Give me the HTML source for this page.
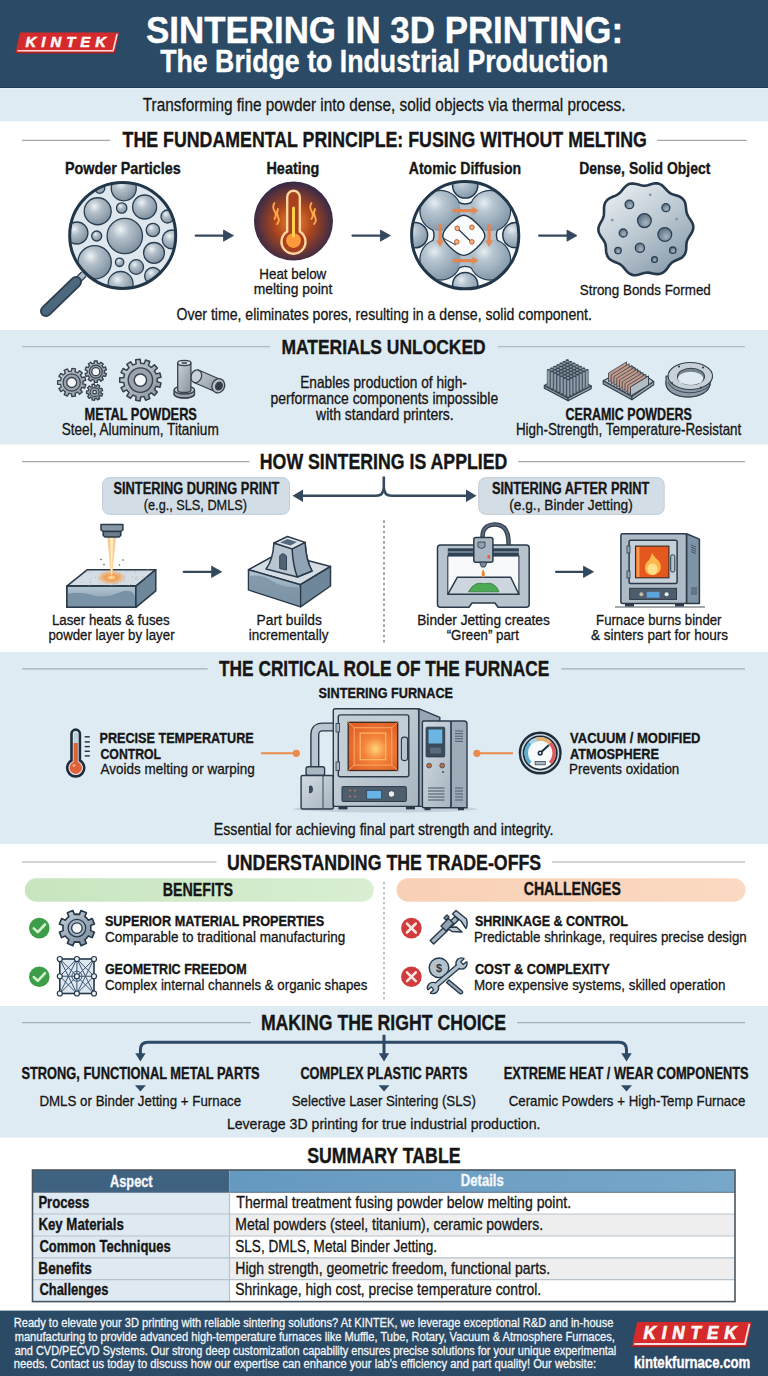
<!DOCTYPE html>
<html><head><meta charset="utf-8"><title>Sintering in 3D Printing</title>
<style>
html,body{margin:0;padding:0;width:768px;height:1376px;overflow:hidden;background:#fff}
svg{display:block;font-family:"Liberation Sans",sans-serif}
</style></head><body>
<svg width="768" height="1376" viewBox="0 0 768 1376">
<defs><radialGradient id="sph" cx="0.38" cy="0.32" r="0.7"><stop offset="0" stop-color="#eef3f6"/><stop offset="0.35" stop-color="#b4c1cb"/><stop offset="1" stop-color="#7d8f9e"/></radialGradient><clipPath id="magclip"><circle cx="122.7" cy="235.4" r="52"/></clipPath><radialGradient id="heatg" cx="0.5" cy="0.52" r="0.5"><stop offset="0" stop-color="#f5842a"/><stop offset="0.5" stop-color="#a8441e"/><stop offset="1" stop-color="#3b2b47"/></radialGradient><clipPath id="atclip"><circle cx="465.2" cy="235.2" r="52.5"/></clipPath><radialGradient id="sph2" cx="0.35" cy="0.3" r="0.75"><stop offset="0" stop-color="#e6edf2"/><stop offset="0.3" stop-color="#b8c6d1"/><stop offset="1" stop-color="#8196a8"/></radialGradient><linearGradient id="blobg" x1="0.2" y1="0.1" x2="0.8" y2="0.95"><stop offset="0" stop-color="#e2e8ed"/><stop offset="0.5" stop-color="#b9c6d0"/><stop offset="1" stop-color="#8a9dac"/></linearGradient><radialGradient id="holeg" cx="0.6" cy="0.65" r="0.6"><stop offset="0" stop-color="#a7b6c2"/><stop offset="1" stop-color="#5f7385"/></radialGradient><linearGradient id="metg" x1="0" y1="0" x2="1" y2="1"><stop offset="0" stop-color="#c9d0d6"/><stop offset="1" stop-color="#8a949e"/></linearGradient><linearGradient id="beamg" x1="0" y1="0" x2="1" y2="0"><stop offset="0" stop-color="#f5a050" stop-opacity="0.6"/><stop offset="0.5" stop-color="#ffe0a0"/><stop offset="1" stop-color="#f5a050" stop-opacity="0.6"/></linearGradient><radialGradient id="glowg"><stop offset="0" stop-color="#fff0c0"/><stop offset="0.35" stop-color="#f59a4a"/><stop offset="1" stop-color="#f59a4a" stop-opacity="0"/></radialGradient><linearGradient id="frontg" x1="0" y1="0" x2="0" y2="1"><stop offset="0" stop-color="#b3c5d3"/><stop offset="1" stop-color="#7891a5"/></linearGradient><linearGradient id="furng" x1="0" y1="0" x2="1" y2="1"><stop offset="0" stop-color="#d2dbe3"/><stop offset="1" stop-color="#a7b4bf"/></linearGradient><radialGradient id="ovg" cx="0.55" cy="0.55" r="0.6"><stop offset="0" stop-color="#ffd27a"/><stop offset="0.4" stop-color="#f5843a"/><stop offset="1" stop-color="#e0602a"/></radialGradient><linearGradient id="greenp" x1="0" x2="1"><stop offset="0" stop-color="#c8e5bf"/><stop offset="1" stop-color="#d9eed2"/></linearGradient><linearGradient id="orangep" x1="0" x2="1"><stop offset="0" stop-color="#f8d0b6"/><stop offset="1" stop-color="#fbd9c2"/></linearGradient><linearGradient id="gear2g" x1="0" y1="0" x2="0.8" y2="1"><stop offset="0" stop-color="#c8d1da"/><stop offset="1" stop-color="#7a8c9c"/></linearGradient></defs>
<rect x="0" y="0" width="768" height="1376" fill="#ffffff"/>
<rect x="0" y="0" width="768" height="88" fill="#2b4a66"/>
<rect x="0" y="88" width="768" height="33.3" fill="#dfebf2"/>
<line x1="0" y1="87.5" x2="768" y2="87.5" stroke="#213c56" stroke-width="1"/>
<line x1="0" y1="88.8" x2="768" y2="88.8" stroke="#e6f0f8" stroke-width="1.2"/>
<rect x="0" y="330" width="768" height="114.5" fill="#dfebf2"/>
<rect x="0" y="652" width="768" height="192" fill="#dfebf2"/>
<rect x="0" y="1006" width="768" height="131.6" fill="#dfebf2"/>
<rect x="0" y="1310.6" width="768" height="65.4" fill="#2b4a66"/>
<line x1="22" y1="140.3" x2="110" y2="140.3" stroke="#a4a8ab" stroke-width="1.15"/>
<line x1="657" y1="140.3" x2="746.5" y2="140.3" stroke="#a4a8ab" stroke-width="1.15"/>
<line x1="22" y1="346.7" x2="270" y2="346.7" stroke="#a2afb8" stroke-width="1.15"/>
<line x1="497.8" y1="346.7" x2="745" y2="346.7" stroke="#a2afb8" stroke-width="1.15"/>
<line x1="22" y1="461.6" x2="249.4" y2="461.6" stroke="#a4a8ab" stroke-width="1.15"/>
<line x1="518.1" y1="461.6" x2="745" y2="461.6" stroke="#a4a8ab" stroke-width="1.15"/>
<line x1="22" y1="668.9" x2="207.6" y2="668.9" stroke="#a2afb8" stroke-width="1.15"/>
<line x1="561.2" y1="668.9" x2="745" y2="668.9" stroke="#a2afb8" stroke-width="1.15"/>
<line x1="22" y1="862.0" x2="216.5" y2="862.0" stroke="#a4a8ab" stroke-width="1.15"/>
<line x1="551.8" y1="862.0" x2="745" y2="862.0" stroke="#a4a8ab" stroke-width="1.15"/>
<line x1="22" y1="1022.5999999999999" x2="250.9" y2="1022.5999999999999" stroke="#a2afb8" stroke-width="1.15"/>
<line x1="517" y1="1022.5999999999999" x2="745" y2="1022.5999999999999" stroke="#a2afb8" stroke-width="1.15"/>
<g transform="translate(15.5,32.5) scale(1.0,1.0)"><path d="M4.5,0 H103.5 L99,20.5 H0 Z" fill="#d52a2c"/><path d="M0.8,20.5 H99 L99.6,18" fill="none" stroke="#9c1b1f" stroke-width="1"/><path d="M2,18.3 H97.6 L101.6,1.5" fill="none" stroke="#f6dede" stroke-width="1.6"/><text x="10" y="14.4" font-size="14.8" font-weight="bold" font-style="italic" fill="#fbf5f5" stroke="#fbf5f5" stroke-width="0.6" textLength="80.5" lengthAdjust="spacing">KINTEK</text></g>
<line x1="195.7" y1="235.6" x2="225" y2="235.6" stroke="#33485c" stroke-width="2.2" stroke-linecap="round"/><path d="M223.5,230.0 L233.5,235.6 L223.5,241.2 Z" fill="#33485c" stroke="#33485c" stroke-width="0.8" stroke-linejoin="round"/>
<line x1="352.5" y1="235.6" x2="381.9" y2="235.6" stroke="#33485c" stroke-width="2.2" stroke-linecap="round"/><path d="M380.4,230.0 L390.4,235.6 L380.4,241.2 Z" fill="#33485c" stroke="#33485c" stroke-width="0.8" stroke-linejoin="round"/>
<line x1="539.1" y1="235.6" x2="568.5" y2="235.6" stroke="#33485c" stroke-width="2.2" stroke-linecap="round"/><path d="M567.0,230.0 L577.0,235.6 L567.0,241.2 Z" fill="#33485c" stroke="#33485c" stroke-width="0.8" stroke-linejoin="round"/>
<line x1="84" y1="274" x2="75" y2="283" stroke="#2c3e50" stroke-width="7.5"/><line x1="84" y1="274" x2="75" y2="283" stroke="#aebdc8" stroke-width="5"/><line x1="76" y1="282" x2="46" y2="311" stroke="#2c3e50" stroke-width="12" stroke-linecap="round"/><line x1="76" y1="282" x2="46" y2="311" stroke="#4d677c" stroke-width="8.5" stroke-linecap="round"/><circle cx="122.7" cy="235.4" r="53" fill="#dfe7ee"/><g clip-path="url(#magclip)"><circle cx="123.75" cy="188.3" r="12.5" fill="url(#sph)" stroke="#2b3e50" stroke-width="1.3"/><circle cx="99.8" cy="188.3" r="5" fill="url(#sph)" stroke="#2b3e50" stroke-width="1.3"/><circle cx="97.7" cy="211.25" r="13.5" fill="url(#sph)" stroke="#2b3e50" stroke-width="1.3"/><circle cx="121.7" cy="208" r="5.2" fill="url(#sph)" stroke="#2b3e50" stroke-width="1.3"/><circle cx="144.6" cy="207" r="12" fill="url(#sph)" stroke="#2b3e50" stroke-width="1.3"/><circle cx="167.5" cy="216.5" r="6.5" fill="url(#sph)" stroke="#2b3e50" stroke-width="1.3"/><circle cx="76.9" cy="233" r="11" fill="url(#sph)" stroke="#2b3e50" stroke-width="1.3"/><circle cx="96.7" cy="236" r="5" fill="url(#sph)" stroke="#2b3e50" stroke-width="1.3"/><circle cx="124.8" cy="236" r="17.7" fill="url(#sph)" stroke="#2b3e50" stroke-width="1.3"/><circle cx="152.9" cy="230" r="6.7" fill="url(#sph)" stroke="#2b3e50" stroke-width="1.3"/><circle cx="171.7" cy="239.4" r="9.4" fill="url(#sph)" stroke="#2b3e50" stroke-width="1.3"/><circle cx="94.6" cy="262.3" r="16.7" fill="url(#sph)" stroke="#2b3e50" stroke-width="1.3"/><circle cx="154" cy="252.9" r="10.4" fill="url(#sph)" stroke="#2b3e50" stroke-width="1.3"/><circle cx="119.6" cy="262.3" r="4.2" fill="url(#sph)" stroke="#2b3e50" stroke-width="1.3"/><circle cx="136.25" cy="267" r="7.3" fill="url(#sph)" stroke="#2b3e50" stroke-width="1.3"/><circle cx="120.6" cy="284" r="12.5" fill="url(#sph)" stroke="#2b3e50" stroke-width="1.3"/><circle cx="152.9" cy="275.8" r="8.3" fill="url(#sph)" stroke="#2b3e50" stroke-width="1.3"/></g><circle cx="122.7" cy="235.4" r="53" fill="none" stroke="#22364a" stroke-width="3"/>
<circle cx="293.5" cy="221.1" r="39.5" fill="url(#heatg)"/><path d="M287.2,231.5 V197 A6.3,6.3 0 0 1 299.8,197 V231.5 A12,12 0 1 1 287.2,231.5 Z" fill="#a8421e" stroke="#ffd6a0" stroke-width="2.4"/><circle cx="293.5" cy="240.6" r="7.4" fill="#ff9a3a"/><line x1="293.5" y1="208" x2="293.5" y2="236" stroke="#ffd24a" stroke-width="3" stroke-linecap="round"/><path d="M274.5,203 q-2.5,4 0,8 q2.5,4 0,8 M278.0,209 q-2,4 0,8 q2,4 -1,7" fill="none" stroke="#ffab4a" stroke-width="1.8" stroke-linecap="round"/><path d="M311.5,203 q-2.5,4 0,8 q2.5,4 0,8 M315.0,209 q-2,4 0,8 q2,4 -1,7" fill="none" stroke="#ffab4a" stroke-width="1.8" stroke-linecap="round"/>
<circle cx="465.2" cy="235.2" r="53.6" fill="#f3f7fa"/><g clip-path="url(#atclip)"><circle cx="440.5" cy="211" r="21.2" fill="#22374c"/><circle cx="490" cy="211" r="21.2" fill="#22374c"/><circle cx="440.5" cy="259.5" r="21.2" fill="#22374c"/><circle cx="490" cy="259.5" r="21.2" fill="#22374c"/><path d="M451,196 Q465.2,212 479.4,196 V225 H451 Z" fill="#b2c1cc"/><path d="M451,274.4 Q465.2,258.4 479.4,274.4 V245 H451 Z" fill="#b2c1cc"/><path d="M426,221 Q442,235.2 426,249.4 H452 V221 Z" fill="#b2c1cc"/><path d="M504.4,221 Q488.4,235.2 504.4,249.4 H478.4 V221 Z" fill="#b2c1cc"/><path d="M451,196 Q465.2,212 479.4,196" fill="none" stroke="#22374c" stroke-width="1.4"/><path d="M451,274.4 Q465.2,258.4 479.4,274.4" fill="none" stroke="#22374c" stroke-width="1.4"/><path d="M426,221 Q442,235.2 426,249.4" fill="none" stroke="#22374c" stroke-width="1.4"/><path d="M504.4,221 Q488.4,235.2 504.4,249.4" fill="none" stroke="#22374c" stroke-width="1.4"/><circle cx="440.5" cy="211" r="20" fill="url(#sph2)"/><circle cx="490" cy="211" r="20" fill="url(#sph2)"/><circle cx="440.5" cy="259.5" r="20" fill="url(#sph2)"/><circle cx="490" cy="259.5" r="20" fill="url(#sph2)"/><path d="M463.8,215.3 C470,215.3 484.9,229.5 484.9,235.8 C484.9,242 470,255.4 463.8,255.4 C457.6,255.4 442.7,242 442.7,235.8 C442.7,229.5 457.6,215.3 463.8,215.3 Z" fill="#fbfcfd" stroke="#22374c" stroke-width="1.4"/><circle cx="465.2" cy="185.5" r="12.6" fill="url(#sph2)" stroke="#22374c" stroke-width="1.5"/><circle cx="465.2" cy="285" r="12.6" fill="url(#sph2)" stroke="#22374c" stroke-width="1.5"/><circle cx="415" cy="235.2" r="12.6" fill="url(#sph2)" stroke="#22374c" stroke-width="1.5"/><circle cx="515.4" cy="235.2" r="12.6" fill="url(#sph2)" stroke="#22374c" stroke-width="1.5"/></g><circle cx="465.2" cy="235.2" r="53.6" fill="none" stroke="#22364a" stroke-width="3"/><g stroke="#e8834a" stroke-width="3.2" fill="#e8834a" opacity="0.92"><line x1="452.5" y1="210.6" x2="474" y2="210.6"/><path d="M472.5,206.8 L478.5,210.6 L472.5,214.4 Z" stroke="none"/><line x1="452.5" y1="260.6" x2="474" y2="260.6"/><path d="M472.5,256.8 L478.5,260.6 L472.5,264.4 Z" stroke="none"/><line x1="440.1" y1="224" x2="440.1" y2="242"/><path d="M436.3,240.5 L440.1,247 L443.9,240.5 Z" stroke="none"/><line x1="489.1" y1="224" x2="489.1" y2="242"/><path d="M485.3,240.5 L489.1,247 L492.9,240.5 Z" stroke="none"/></g><line x1="458" y1="229" x2="471.5" y2="242" stroke="#22374c" stroke-width="1.2"/><line x1="443" y1="238" x2="456" y2="245" stroke="#22374c" stroke-width="1"/><circle cx="457.3" cy="228.3" r="2.3" fill="#f2b48a" stroke="#b8602e" stroke-width="1"/><circle cx="471.9" cy="227.3" r="2.3" fill="#f2b48a" stroke="#b8602e" stroke-width="1"/><circle cx="456.8" cy="241.9" r="2.3" fill="#f2b48a" stroke="#b8602e" stroke-width="1"/><circle cx="471.9" cy="241.9" r="2.3" fill="#f2b48a" stroke="#b8602e" stroke-width="1"/>
<path d="M693.2,228.7 L692.5,231.2 L691.3,233.5 L689.9,235.7 L688.5,237.8 L687.4,239.9 L686.7,242.1 L686.4,244.4 L686.3,246.9 L686.2,249.4 L685.7,251.9 L684.8,254.2 L683.4,256.2 L681.5,257.8 L679.2,259.0 L676.8,260.0 L674.6,261.0 L672.6,262.1 L670.8,263.6 L669.3,265.4 L667.9,267.4 L666.3,269.6 L664.5,271.5 L662.5,272.9 L660.2,273.8 L657.7,274.1 L655.1,273.9 L652.6,273.4 L650.1,272.9 L647.8,272.6 L645.5,272.8 L643.2,273.3 L640.7,274.1 L638.2,274.8 L635.6,275.2 L633.1,275.1 L630.7,274.3 L628.5,272.9 L626.6,271.1 L624.9,269.1 L623.3,267.1 L621.6,265.4 L619.8,264.1 L617.7,263.1 L615.4,262.2 L613.0,261.2 L610.8,260.0 L608.9,258.4 L607.5,256.3 L606.6,254.0 L606.1,251.4 L606.0,248.8 L605.8,246.4 L605.4,244.1 L604.6,242.0 L603.4,240.0 L602.0,238.0 L600.5,235.8 L599.3,233.6 L598.5,231.2 L598.4,228.7 L598.9,226.3 L600.0,223.9 L601.2,221.7 L602.4,219.5 L603.3,217.4 L603.8,215.2 L604.0,212.8 L604.0,210.2 L604.0,207.6 L604.4,205.0 L605.2,202.6 L606.7,200.5 L608.6,198.8 L610.9,197.6 L613.3,196.5 L615.7,195.6 L617.8,194.5 L619.6,193.1 L621.2,191.3 L622.8,189.4 L624.5,187.4 L626.3,185.7 L628.5,184.3 L630.9,183.6 L633.4,183.6 L636.0,184.0 L638.5,184.6 L640.9,185.3 L643.2,185.7 L645.5,185.6 L647.8,185.2 L650.1,184.5 L652.6,183.8 L655.1,183.3 L657.6,183.4 L660.0,184.1 L662.1,185.4 L664.0,187.2 L665.7,189.0 L667.4,190.8 L669.1,192.4 L671.0,193.6 L673.2,194.4 L675.7,195.2 L678.2,196.0 L680.6,197.1 L682.6,198.6 L684.2,200.6 L685.2,202.9 L685.7,205.5 L686.0,208.1 L686.3,210.6 L686.7,212.9 L687.5,215.0 L688.7,217.1 L690.1,219.2 L691.5,221.4 L692.7,223.7 L693.3,226.2 L693.2,228.7Z" fill="url(#blobg)" stroke="#26394c" stroke-width="2.6"/><circle cx="629.4" cy="204.4" r="4.3" fill="url(#holeg)" stroke="#2b4055" stroke-width="1.3"/><circle cx="665.9" cy="207.7" r="4" fill="url(#holeg)" stroke="#2b4055" stroke-width="1.3"/><circle cx="644.4" cy="220.6" r="6.9" fill="url(#holeg)" stroke="#2b4055" stroke-width="1.3"/><circle cx="623.2" cy="233" r="4" fill="url(#holeg)" stroke="#2b4055" stroke-width="1.3"/><circle cx="664.8" cy="234.5" r="6.9" fill="url(#holeg)" stroke="#2b4055" stroke-width="1.3"/><circle cx="639.9" cy="247.8" r="4.6" fill="url(#holeg)" stroke="#2b4055" stroke-width="1.3"/><circle cx="618" cy="250.6" r="3.2" fill="url(#holeg)" stroke="#2b4055" stroke-width="1.3"/><circle cx="672.8" cy="250.2" r="3.2" fill="url(#holeg)" stroke="#2b4055" stroke-width="1.3"/><circle cx="654.5" cy="259.5" r="2.9" fill="url(#holeg)" stroke="#2b4055" stroke-width="1.3"/><circle cx="650.2" cy="194.8" r="1.4" fill="#8496a5"/><circle cx="612.2" cy="220.1" r="1.4" fill="#8496a5"/><circle cx="676.7" cy="219.1" r="1.4" fill="#8496a5"/>
<path d="M104.40,371.70 L104.32,372.86 L106.44,373.56 L105.50,376.45 L103.37,375.77 L102.76,376.75 L102.01,377.65 L103.32,379.46 L100.85,381.24 L99.53,379.45 L98.46,379.88 L97.33,380.16 L97.32,382.39 L94.28,382.39 L94.27,380.16 L93.14,379.88 L92.07,379.45 L90.75,381.24 L88.28,379.46 L89.59,377.65 L88.84,376.75 L88.23,375.77 L86.10,376.45 L85.16,373.56 L87.28,372.86 L87.20,371.70 L87.28,370.54 L85.16,369.84 L86.10,366.95 L88.23,367.63 L88.84,366.65 L89.59,365.75 L88.28,363.94 L90.75,362.16 L92.07,363.95 L93.14,363.52 L94.27,363.24 L94.28,361.01 L97.32,361.01 L97.33,363.24 L98.46,363.52 L99.53,363.95 L100.85,362.16 L103.32,363.94 L102.01,365.75 L102.76,366.65 L103.37,367.63 L105.50,366.95 L106.44,369.84 L104.32,370.54Z" fill="url(#metg)" stroke="#36414c" stroke-width="1.3" stroke-linejoin="round"/><circle cx="95.8" cy="371.7" r="6.5" fill="#9aa3ad" stroke="#36414c" stroke-width="1.1700000000000002"/><circle cx="95.8" cy="371.7" r="4" fill="#f4f6f8" stroke="#36414c" stroke-width="1.3"/><path d="M101.00,392.20 L100.93,393.16 L102.65,393.76 L101.77,396.18 L100.06,395.53 L99.50,396.31 L98.83,397.00 L99.76,398.57 L97.54,399.86 L96.64,398.27 L95.71,398.50 L94.76,398.60 L94.46,400.40 L91.93,399.95 L92.26,398.16 L91.40,397.74 L90.61,397.20 L89.22,398.39 L87.57,396.42 L88.98,395.26 L88.59,394.39 L88.33,393.47 L86.50,393.48 L86.50,390.92 L88.33,390.93 L88.59,390.01 L88.98,389.14 L87.57,387.98 L89.22,386.01 L90.61,387.20 L91.40,386.66 L92.26,386.24 L91.93,384.45 L94.46,384.00 L94.76,385.80 L95.71,385.90 L96.64,386.13 L97.54,384.54 L99.76,385.83 L98.83,387.40 L99.50,388.09 L100.06,388.87 L101.77,388.22 L102.65,390.64 L100.93,391.24Z" fill="url(#metg)" stroke="#36414c" stroke-width="1.3" stroke-linejoin="round"/><circle cx="94.6" cy="392.2" r="4.5" fill="#9aa3ad" stroke="#36414c" stroke-width="1.1700000000000002"/><circle cx="94.6" cy="392.2" r="1.8" fill="#f4f6f8" stroke="#36414c" stroke-width="1.3"/><path d="M83.00,382.50 L82.91,383.88 L85.73,384.72 L84.70,388.21 L81.88,387.40 L81.21,388.61 L80.39,389.73 L82.30,391.95 L79.55,394.33 L77.62,392.13 L76.39,392.78 L75.10,393.28 L75.51,396.18 L71.90,396.70 L71.47,393.80 L70.09,393.68 L68.73,393.40 L67.51,396.07 L64.19,394.55 L65.40,391.88 L64.30,391.04 L63.31,390.07 L60.84,391.64 L58.87,388.58 L61.33,386.99 L60.86,385.68 L60.55,384.33 L57.62,384.32 L57.62,380.68 L60.55,380.67 L60.86,379.32 L61.33,378.01 L58.87,376.42 L60.84,373.36 L63.31,374.93 L64.30,373.96 L65.40,373.12 L64.19,370.45 L67.51,368.93 L68.73,371.60 L70.09,371.32 L71.47,371.20 L71.90,368.30 L75.51,368.82 L75.10,371.72 L76.39,372.22 L77.62,372.87 L79.55,370.67 L82.30,373.05 L80.39,375.27 L81.21,376.39 L81.88,377.60 L84.70,376.79 L85.73,380.28 L82.91,381.12Z" fill="url(#metg)" stroke="#36414c" stroke-width="1.3" stroke-linejoin="round"/><circle cx="71.7" cy="382.5" r="8.6" fill="#9aa3ad" stroke="#36414c" stroke-width="1.1700000000000002"/><circle cx="71.7" cy="382.5" r="5" fill="#f4f6f8" stroke="#36414c" stroke-width="1.3"/><path d="M157.20,380.10 L157.11,381.84 L161.02,382.86 L159.94,387.24 L156.01,386.32 L155.28,387.91 L154.39,389.41 L157.37,392.12 L154.38,395.50 L151.33,392.86 L149.94,393.93 L148.46,394.84 L149.84,398.63 L145.62,400.23 L144.14,396.48 L142.43,396.78 L140.68,396.90 L140.15,400.90 L135.67,400.35 L136.10,396.34 L134.44,395.81 L132.85,395.11 L130.51,398.40 L126.80,395.83 L129.05,392.48 L127.83,391.24 L126.74,389.88 L123.14,391.71 L121.04,387.71 L124.59,385.79 L124.09,384.12 L123.76,382.41 L119.72,382.36 L119.72,377.84 L123.76,377.79 L124.09,376.08 L124.59,374.41 L121.04,372.49 L123.14,368.49 L126.74,370.32 L127.83,368.96 L129.05,367.72 L126.80,364.37 L130.51,361.80 L132.85,365.09 L134.44,364.39 L136.10,363.86 L135.67,359.85 L140.15,359.30 L140.68,363.30 L142.43,363.42 L144.14,363.72 L145.62,359.97 L149.84,361.57 L148.46,365.36 L149.94,366.27 L151.33,367.34 L154.38,364.70 L157.37,368.08 L154.39,370.79 L155.28,372.29 L156.01,373.88 L159.94,372.96 L161.02,377.34 L157.11,378.36Z" fill="url(#metg)" stroke="#36414c" stroke-width="1.5" stroke-linejoin="round"/><circle cx="140.4" cy="380.1" r="12.2" fill="#9aa3ad" stroke="#36414c" stroke-width="1.35"/><circle cx="140.4" cy="380.1" r="6.2" fill="#f4f6f8" stroke="#36414c" stroke-width="1.5"/><g stroke="#36414c" stroke-width="1.3" stroke-linejoin="round"><g transform="translate(2.5,1.5)"><path d="M196,368.5 L218,378 L213.5,390.5 L191.5,381 Z" fill="url(#metg)"/><ellipse cx="215.8" cy="384.3" rx="6.3" ry="7.2" transform="rotate(23 215.8 384.3)" fill="#b5bdc5"/><ellipse cx="216.5" cy="384.5" rx="3.2" ry="4" transform="rotate(23 216.5 384.5)" fill="#2f3b47"/><ellipse cx="193.8" cy="374.8" rx="5.2" ry="6.5" transform="rotate(23 193.8 374.8)" fill="#c9d0d6"/></g><ellipse cx="184.3" cy="394" rx="10.2" ry="4" fill="#9aa3ad"/><path d="M174.1,390 V394 A10.2,4 0 0 0 194.5,394 V390" fill="#9aa3ad"/><ellipse cx="184.3" cy="390" rx="10.2" ry="4" fill="#c0c7ce"/><path d="M177.7,363 V390 A6.6,2.5 0 0 0 190.9,390 V363 Z" fill="url(#metg)"/><ellipse cx="184.3" cy="363" rx="6.6" ry="2.6" fill="#dfe4e8"/><ellipse cx="184.3" cy="363" rx="3" ry="1.2" fill="#5a6570" stroke="none"/></g>
<g stroke="#33404c" stroke-width="1.1" stroke-linejoin="round"><path d="M544.3,385.5 L567.7,373 L591.2,385.9 L568.1,398 Z" fill="#b7c2cc"/><path d="M544.3,385.5 V388.3 L568.1,400.8 V398 Z" fill="#7f8e9c"/><path d="M591.2,385.9 V388.7 L568.1,400.8 V398 Z" fill="#95a3b0"/><rect x="565.90" y="360.10" width="2.8" height="36.54" fill="#8e9eac" stroke-width="0.55"/><ellipse cx="567.30" cy="360.10" rx="1.4" ry="0.8" fill="#33404c" stroke="none"/><rect x="562.78" y="361.72" width="2.8" height="33.30" fill="#8e9eac" stroke-width="0.55"/><ellipse cx="564.18" cy="361.72" rx="1.4" ry="0.8" fill="#33404c" stroke="none"/><rect x="569.17" y="361.72" width="2.8" height="33.95" fill="#8e9eac" stroke-width="0.55"/><ellipse cx="570.57" cy="361.72" rx="1.4" ry="0.8" fill="#33404c" stroke="none"/><rect x="559.67" y="363.33" width="2.8" height="30.06" fill="#8e9eac" stroke-width="0.55"/><ellipse cx="561.07" cy="363.33" rx="1.4" ry="0.8" fill="#33404c" stroke="none"/><rect x="566.05" y="363.33" width="2.8" height="33.38" fill="#8e9eac" stroke-width="0.55"/><ellipse cx="567.45" cy="363.33" rx="1.4" ry="0.8" fill="#33404c" stroke="none"/><rect x="572.43" y="363.33" width="2.8" height="30.63" fill="#8e9eac" stroke-width="0.55"/><ellipse cx="573.83" cy="363.33" rx="1.4" ry="0.8" fill="#33404c" stroke="none"/><rect x="556.55" y="364.95" width="2.8" height="26.82" fill="#8e9eac" stroke-width="0.55"/><ellipse cx="557.95" cy="364.95" rx="1.4" ry="0.8" fill="#33404c" stroke="none"/><rect x="562.93" y="364.95" width="2.8" height="30.14" fill="#8e9eac" stroke-width="0.55"/><ellipse cx="564.33" cy="364.95" rx="1.4" ry="0.8" fill="#33404c" stroke="none"/><rect x="569.32" y="364.95" width="2.8" height="30.64" fill="#8e9eac" stroke-width="0.55"/><ellipse cx="570.72" cy="364.95" rx="1.4" ry="0.8" fill="#33404c" stroke="none"/><rect x="575.70" y="364.95" width="2.8" height="27.32" fill="#8e9eac" stroke-width="0.55"/><ellipse cx="577.10" cy="364.95" rx="1.4" ry="0.8" fill="#33404c" stroke="none"/><rect x="553.43" y="366.57" width="2.8" height="23.59" fill="#8e9eac" stroke-width="0.55"/><ellipse cx="554.83" cy="366.57" rx="1.4" ry="0.8" fill="#33404c" stroke="none"/><rect x="559.82" y="366.57" width="2.8" height="26.91" fill="#8e9eac" stroke-width="0.55"/><ellipse cx="561.22" cy="366.57" rx="1.4" ry="0.8" fill="#33404c" stroke="none"/><rect x="566.20" y="366.57" width="2.8" height="30.23" fill="#8e9eac" stroke-width="0.55"/><ellipse cx="567.60" cy="366.57" rx="1.4" ry="0.8" fill="#33404c" stroke="none"/><rect x="572.58" y="366.57" width="2.8" height="27.32" fill="#8e9eac" stroke-width="0.55"/><ellipse cx="573.98" cy="366.57" rx="1.4" ry="0.8" fill="#33404c" stroke="none"/><rect x="578.97" y="366.57" width="2.8" height="24.00" fill="#8e9eac" stroke-width="0.55"/><ellipse cx="580.37" cy="366.57" rx="1.4" ry="0.8" fill="#33404c" stroke="none"/><rect x="550.32" y="368.18" width="2.8" height="20.35" fill="#8e9eac" stroke-width="0.55"/><ellipse cx="551.72" cy="368.18" rx="1.4" ry="0.8" fill="#33404c" stroke="none"/><rect x="556.70" y="368.18" width="2.8" height="23.67" fill="#8e9eac" stroke-width="0.55"/><ellipse cx="558.10" cy="368.18" rx="1.4" ry="0.8" fill="#33404c" stroke="none"/><rect x="563.08" y="368.18" width="2.8" height="26.99" fill="#8e9eac" stroke-width="0.55"/><ellipse cx="564.48" cy="368.18" rx="1.4" ry="0.8" fill="#33404c" stroke="none"/><rect x="569.47" y="368.18" width="2.8" height="27.33" fill="#8e9eac" stroke-width="0.55"/><ellipse cx="570.87" cy="368.18" rx="1.4" ry="0.8" fill="#33404c" stroke="none"/><rect x="575.85" y="368.18" width="2.8" height="24.01" fill="#8e9eac" stroke-width="0.55"/><ellipse cx="577.25" cy="368.18" rx="1.4" ry="0.8" fill="#33404c" stroke="none"/><rect x="582.23" y="368.18" width="2.8" height="20.69" fill="#8e9eac" stroke-width="0.55"/><ellipse cx="583.63" cy="368.18" rx="1.4" ry="0.8" fill="#33404c" stroke="none"/><rect x="547.20" y="369.80" width="2.8" height="17.11" fill="#8e9eac" stroke-width="0.55"/><ellipse cx="548.60" cy="369.80" rx="1.4" ry="0.8" fill="#33404c" stroke="none"/><rect x="553.58" y="369.80" width="2.8" height="20.43" fill="#8e9eac" stroke-width="0.55"/><ellipse cx="554.98" cy="369.80" rx="1.4" ry="0.8" fill="#33404c" stroke="none"/><rect x="559.97" y="369.80" width="2.8" height="23.75" fill="#8e9eac" stroke-width="0.55"/><ellipse cx="561.37" cy="369.80" rx="1.4" ry="0.8" fill="#33404c" stroke="none"/><rect x="566.35" y="369.80" width="2.8" height="27.07" fill="#8e9eac" stroke-width="0.55"/><ellipse cx="567.75" cy="369.80" rx="1.4" ry="0.8" fill="#33404c" stroke="none"/><rect x="572.73" y="369.80" width="2.8" height="24.01" fill="#8e9eac" stroke-width="0.55"/><ellipse cx="574.13" cy="369.80" rx="1.4" ry="0.8" fill="#33404c" stroke="none"/><rect x="579.12" y="369.80" width="2.8" height="20.69" fill="#8e9eac" stroke-width="0.55"/><ellipse cx="580.52" cy="369.80" rx="1.4" ry="0.8" fill="#33404c" stroke="none"/><rect x="585.50" y="369.80" width="2.8" height="17.37" fill="#8e9eac" stroke-width="0.55"/><ellipse cx="586.90" cy="369.80" rx="1.4" ry="0.8" fill="#33404c" stroke="none"/><rect x="550.47" y="371.42" width="2.8" height="17.19" fill="#8e9eac" stroke-width="0.55"/><ellipse cx="551.87" cy="371.42" rx="1.4" ry="0.8" fill="#33404c" stroke="none"/><rect x="556.85" y="371.42" width="2.8" height="20.51" fill="#8e9eac" stroke-width="0.55"/><ellipse cx="558.25" cy="371.42" rx="1.4" ry="0.8" fill="#33404c" stroke="none"/><rect x="563.23" y="371.42" width="2.8" height="23.83" fill="#8e9eac" stroke-width="0.55"/><ellipse cx="564.63" cy="371.42" rx="1.4" ry="0.8" fill="#33404c" stroke="none"/><rect x="569.62" y="371.42" width="2.8" height="24.01" fill="#8e9eac" stroke-width="0.55"/><ellipse cx="571.02" cy="371.42" rx="1.4" ry="0.8" fill="#33404c" stroke="none"/><rect x="576.00" y="371.42" width="2.8" height="20.70" fill="#8e9eac" stroke-width="0.55"/><ellipse cx="577.40" cy="371.42" rx="1.4" ry="0.8" fill="#33404c" stroke="none"/><rect x="582.38" y="371.42" width="2.8" height="17.38" fill="#8e9eac" stroke-width="0.55"/><ellipse cx="583.78" cy="371.42" rx="1.4" ry="0.8" fill="#33404c" stroke="none"/><rect x="553.73" y="373.03" width="2.8" height="17.28" fill="#8e9eac" stroke-width="0.55"/><ellipse cx="555.13" cy="373.03" rx="1.4" ry="0.8" fill="#33404c" stroke="none"/><rect x="560.12" y="373.03" width="2.8" height="20.60" fill="#8e9eac" stroke-width="0.55"/><ellipse cx="561.52" cy="373.03" rx="1.4" ry="0.8" fill="#33404c" stroke="none"/><rect x="566.50" y="373.03" width="2.8" height="23.91" fill="#8e9eac" stroke-width="0.55"/><ellipse cx="567.90" cy="373.03" rx="1.4" ry="0.8" fill="#33404c" stroke="none"/><rect x="572.88" y="373.03" width="2.8" height="20.70" fill="#8e9eac" stroke-width="0.55"/><ellipse cx="574.28" cy="373.03" rx="1.4" ry="0.8" fill="#33404c" stroke="none"/><rect x="579.27" y="373.03" width="2.8" height="17.38" fill="#8e9eac" stroke-width="0.55"/><ellipse cx="580.67" cy="373.03" rx="1.4" ry="0.8" fill="#33404c" stroke="none"/><rect x="557.00" y="374.65" width="2.8" height="17.36" fill="#8e9eac" stroke-width="0.55"/><ellipse cx="558.40" cy="374.65" rx="1.4" ry="0.8" fill="#33404c" stroke="none"/><rect x="563.38" y="374.65" width="2.8" height="20.68" fill="#8e9eac" stroke-width="0.55"/><ellipse cx="564.78" cy="374.65" rx="1.4" ry="0.8" fill="#33404c" stroke="none"/><rect x="569.77" y="374.65" width="2.8" height="20.70" fill="#8e9eac" stroke-width="0.55"/><ellipse cx="571.17" cy="374.65" rx="1.4" ry="0.8" fill="#33404c" stroke="none"/><rect x="576.15" y="374.65" width="2.8" height="17.38" fill="#8e9eac" stroke-width="0.55"/><ellipse cx="577.55" cy="374.65" rx="1.4" ry="0.8" fill="#33404c" stroke="none"/><rect x="560.27" y="376.27" width="2.8" height="17.44" fill="#8e9eac" stroke-width="0.55"/><ellipse cx="561.67" cy="376.27" rx="1.4" ry="0.8" fill="#33404c" stroke="none"/><rect x="566.65" y="376.27" width="2.8" height="20.71" fill="#8e9eac" stroke-width="0.55"/><ellipse cx="568.05" cy="376.27" rx="1.4" ry="0.8" fill="#33404c" stroke="none"/><rect x="573.03" y="376.27" width="2.8" height="17.39" fill="#8e9eac" stroke-width="0.55"/><ellipse cx="574.43" cy="376.27" rx="1.4" ry="0.8" fill="#33404c" stroke="none"/><rect x="563.53" y="377.88" width="2.8" height="17.52" fill="#8e9eac" stroke-width="0.55"/><ellipse cx="564.93" cy="377.88" rx="1.4" ry="0.8" fill="#33404c" stroke="none"/><rect x="569.92" y="377.88" width="2.8" height="17.39" fill="#8e9eac" stroke-width="0.55"/><ellipse cx="571.32" cy="377.88" rx="1.4" ry="0.8" fill="#33404c" stroke="none"/><rect x="566.80" y="379.50" width="2.8" height="17.40" fill="#8e9eac" stroke-width="0.55"/><ellipse cx="568.20" cy="379.50" rx="1.4" ry="0.8" fill="#33404c" stroke="none"/></g><g stroke="#33404c" stroke-width="1.1" stroke-linejoin="round"><path d="M603.2,380.8 L631.5,366 L653.7,381.5 L631.9,396.5 Z" fill="#b9c1c8"/><path d="M603.2,380.8 V384 L631.9,399.7 V396.5 Z" fill="#8e98a2"/><path d="M653.7,381.5 V384.7 L631.9,399.7 V396.5 Z" fill="#a0aab3"/><path d="M608.5,382.0 L626.5,371.0 L626.5,362.0 L608.5,373.0 Z" fill="#c49b8b" stroke-width="0.8"/><path d="M611.2,383.8 L629.2,372.8 L629.2,363.8 L611.2,374.8 Z" fill="#c49b8b" stroke-width="0.8"/><path d="M614.0,385.5 L632.0,374.5 L632.0,365.5 L614.0,376.5 Z" fill="#c49b8b" stroke-width="0.8"/><path d="M616.8,387.2 L634.8,376.2 L634.8,367.2 L616.8,378.2 Z" fill="#c49b8b" stroke-width="0.8"/><path d="M619.5,389.0 L637.5,378.0 L637.5,369.0 L619.5,380.0 Z" fill="#c49b8b" stroke-width="0.8"/><path d="M622.2,390.8 L640.2,379.8 L640.2,370.8 L622.2,381.8 Z" fill="#c49b8b" stroke-width="0.8"/><path d="M625.0,392.5 L643.0,381.5 L643.0,372.5 L625.0,383.5 Z" fill="#c49b8b" stroke-width="0.8"/><path d="M627.8,394.2 L645.8,383.2 L645.8,374.2 L627.8,385.2 Z" fill="#c49b8b" stroke-width="0.8"/><path d="M630.5,396.0 L648.5,385.0 L648.5,376.0 L630.5,387.0 Z" fill="#b4bcc3" stroke-width="0.8"/><path d="M630.5,396 L648.5,385 V376 L630.5,387 Z" fill="#b4bcc3" stroke-width="0.9"/></g><g stroke="#33404c" stroke-width="1.1" stroke-linejoin="round"><ellipse cx="688" cy="383.5" rx="22" ry="13.5" fill="#7d8a96"/><path d="M666,376 L666,383.5 A22,13.5 0 0 0 710,383.5 L712.5,376 Z" fill="#8e9ba7"/><ellipse cx="690.3" cy="376" rx="22.2" ry="13.5" fill="#c9d1d8"/><ellipse cx="691" cy="376.5" rx="13.5" ry="8.3" fill="#76838f"/><ellipse cx="690.6" cy="378.4" rx="12.6" ry="6.6" fill="#dfe9f1" stroke="none"/><path d="M668,382 A22,13 0 0 0 710.5,384" fill="none" stroke-width="0.9"/></g><circle cx="679" cy="366.5" r="1.1" fill="#33404c"/><circle cx="703" cy="367.5" r="1.1" fill="#33404c"/><circle cx="672" cy="383" r="1.1" fill="#33404c"/><circle cx="701" cy="387.5" r="1.1" fill="#33404c"/>
<rect x="102.5" y="477.6" width="187" height="36.8" rx="7" fill="#d2dde6" stroke="#c3ced8" stroke-width="1"/><rect x="478.7" y="477.6" width="185.5" height="36.8" rx="7" fill="#d2dde6" stroke="#c3ced8" stroke-width="1"/><path d="M302,495.8 H376 Q383.8,495.8 383.8,487 V476.4 M383.8,487 Q383.8,495.8 391.6,495.8 H466" fill="none" stroke="#34495e" stroke-width="2.6"/><path d="M292.5,495.8 L303,489.5 L303,502 Z" fill="#34495e"/><path d="M476.5,495.8 L466,489.5 L466,502 Z" fill="#34495e"/><line x1="384" y1="520.3" x2="384" y2="643" stroke="#8a8f94" stroke-width="1.6" stroke-dasharray="2.6,2.6"/>
<line x1="183.7" y1="571.8" x2="213.1" y2="571.8" stroke="#33485c" stroke-width="2.2" stroke-linecap="round"/><path d="M211.6,566.1999999999999 L221.6,571.8 L211.6,577.4 Z" fill="#33485c" stroke="#33485c" stroke-width="0.8" stroke-linejoin="round"/>
<line x1="556.0" y1="571.8" x2="585" y2="571.8" stroke="#33485c" stroke-width="2.2" stroke-linecap="round"/><path d="M583.5,566.1999999999999 L593.5,571.8 L583.5,577.4 Z" fill="#33485c" stroke="#33485c" stroke-width="0.8" stroke-linejoin="round"/>
<path d="M66.8,586.1 L87.4,569.7 L155.8,569.7 L135.9,586.1 Z" fill="#d5dde4" stroke="#2a3a4a" stroke-width="1.5" stroke-linejoin="round"/><path d="M66.8,586.1 H135.9 V607.3 H66.8 Z" fill="url(#frontg)" stroke="#2a3a4a" stroke-width="1.5" stroke-linejoin="round"/><path d="M67.5,594 Q80,591 92,595 T118,593 T135,597 V606.5 H67.5 Z" fill="#7a92a6"/><path d="M66.8,586.1 H135.9 V607.3 H66.8 Z" fill="none" stroke="#2a3a4a" stroke-width="1.5" stroke-linejoin="round"/><path d="M135.9,586.1 L155.8,569.7 V590.9 L135.9,607.3 Z" fill="#6e879b" stroke="#2a3a4a" stroke-width="1.5" stroke-linejoin="round"/><circle cx="95.5" cy="577.2" r="0.45" fill="#8a99a6"/><circle cx="105.8" cy="576.2" r="0.45" fill="#8a99a6"/><circle cx="112.4" cy="585.0" r="0.45" fill="#8a99a6"/><circle cx="86.0" cy="572.4" r="0.45" fill="#8a99a6"/><circle cx="90.5" cy="582.3" r="0.45" fill="#8a99a6"/><circle cx="146.3" cy="578.4" r="0.45" fill="#8a99a6"/><circle cx="135.4" cy="578.3" r="0.45" fill="#8a99a6"/><circle cx="115.1" cy="583.6" r="0.45" fill="#8a99a6"/><circle cx="129.6" cy="571.9" r="0.45" fill="#8a99a6"/><circle cx="119.2" cy="573.9" r="0.45" fill="#8a99a6"/><circle cx="115.5" cy="585.0" r="0.45" fill="#8a99a6"/><circle cx="132.4" cy="576.4" r="0.45" fill="#8a99a6"/><circle cx="89.3" cy="585.6" r="0.45" fill="#8a99a6"/><circle cx="137.3" cy="578.3" r="0.45" fill="#8a99a6"/><circle cx="135.6" cy="571.7" r="0.45" fill="#8a99a6"/><circle cx="136.1" cy="571.0" r="0.45" fill="#8a99a6"/><circle cx="111.6" cy="573.0" r="0.45" fill="#8a99a6"/><circle cx="117.8" cy="570.8" r="0.45" fill="#8a99a6"/><circle cx="130.5" cy="584.5" r="0.45" fill="#8a99a6"/><circle cx="81.7" cy="582.5" r="0.45" fill="#8a99a6"/><circle cx="143.5" cy="578.9" r="0.45" fill="#8a99a6"/><circle cx="117.3" cy="581.2" r="0.45" fill="#8a99a6"/><circle cx="110.8" cy="579.8" r="0.45" fill="#8a99a6"/><circle cx="104.1" cy="576.5" r="0.45" fill="#8a99a6"/><circle cx="126.8" cy="571.3" r="0.45" fill="#8a99a6"/><circle cx="134.1" cy="570.9" r="0.45" fill="#8a99a6"/><circle cx="147.4" cy="569.8" r="0.45" fill="#8a99a6"/><circle cx="117.5" cy="583.4" r="0.45" fill="#8a99a6"/><circle cx="147.1" cy="570.3" r="0.45" fill="#8a99a6"/><circle cx="142.0" cy="576.8" r="0.45" fill="#8a99a6"/><circle cx="121.5" cy="582.6" r="0.45" fill="#8a99a6"/><circle cx="137.1" cy="576.7" r="0.45" fill="#8a99a6"/><circle cx="88.8" cy="585.1" r="0.45" fill="#8a99a6"/><circle cx="147.2" cy="569.9" r="0.45" fill="#8a99a6"/><circle cx="90.4" cy="573.0" r="0.45" fill="#8a99a6"/><circle cx="99.3" cy="583.6" r="0.45" fill="#8a99a6"/><circle cx="103.9" cy="573.5" r="0.45" fill="#8a99a6"/><circle cx="129.0" cy="585.4" r="0.45" fill="#8a99a6"/><circle cx="111.2" cy="585.4" r="0.45" fill="#8a99a6"/><circle cx="124.3" cy="580.7" r="0.45" fill="#8a99a6"/><circle cx="148.9" cy="570.0" r="0.45" fill="#8a99a6"/><circle cx="123.3" cy="569.7" r="0.45" fill="#8a99a6"/><circle cx="90.8" cy="584.8" r="0.45" fill="#8a99a6"/><circle cx="109.9" cy="585.6" r="0.45" fill="#8a99a6"/><circle cx="89.8" cy="579.4" r="0.45" fill="#8a99a6"/><circle cx="113.2" cy="583.5" r="0.45" fill="#8a99a6"/><circle cx="88.6" cy="571.9" r="0.45" fill="#8a99a6"/><circle cx="109.2" cy="570.4" r="0.45" fill="#8a99a6"/><circle cx="137.5" cy="579.9" r="0.45" fill="#8a99a6"/><circle cx="110.3" cy="577.6" r="0.45" fill="#8a99a6"/><circle cx="124.6" cy="576.3" r="0.45" fill="#8a99a6"/><circle cx="119.2" cy="575.9" r="0.45" fill="#8a99a6"/><circle cx="143.2" cy="577.8" r="0.45" fill="#8a99a6"/><circle cx="112.4" cy="574.3" r="0.45" fill="#8a99a6"/><circle cx="90.4" cy="581.2" r="0.45" fill="#8a99a6"/><circle cx="146.1" cy="577.6" r="0.45" fill="#8a99a6"/><circle cx="105.9" cy="585.9" r="0.45" fill="#8a99a6"/><circle cx="108.4" cy="576.6" r="0.45" fill="#8a99a6"/><circle cx="81.9" cy="576.0" r="0.45" fill="#8a99a6"/><circle cx="112.7" cy="585.1" r="0.45" fill="#8a99a6"/><ellipse cx="111.3" cy="577.5" rx="15" ry="7.5" fill="url(#glowg)"/><path d="M107.3,536.9 L116,536.9 L112.3,575 L110.8,575 Z" fill="url(#beamg)"/><path d="M110.2,537 L113,537 L111.8,574 Z" fill="#fff2c8"/><path d="M101,524.6 H122.9 V530 L120.8,531.5 H103.1 L101,530 Z" fill="#8797a6" stroke="#2a3a4a" stroke-width="1.5" stroke-linejoin="round"/><path d="M103.2,531.5 H120.8 V535.5 L119,537 H105 L103.2,535.5 Z" fill="#6b7c8c" stroke="#2a3a4a" stroke-width="1.5" stroke-linejoin="round"/><circle cx="101" cy="559.5" r="0.8" fill="#555"/><circle cx="104" cy="564.5" r="0.8" fill="#555"/><circle cx="123" cy="560" r="0.8" fill="#555"/><circle cx="119.5" cy="565" r="0.8" fill="#555"/>
<path d="M248.5,569.7 L279,553 L330.5,566.5 L300.5,584.7 Z" fill="#d5dde4" stroke="#2a3a4a" stroke-width="1.5" stroke-linejoin="round"/><path d="M248.5,569.7 L300.5,584.7 V606.8 L248.5,589.9 Z" fill="url(#frontg)" stroke="#2a3a4a" stroke-width="1.5" stroke-linejoin="round"/><path d="M300.5,584.7 L330.5,566.5 V586 L300.5,606.8 Z" fill="#6e879b" stroke="#2a3a4a" stroke-width="1.5" stroke-linejoin="round"/><path d="M249.3,576 Q262,574 272,581 T300,587 V606 L249.3,589.5 Z" fill="#7c93a6" opacity="0.8"/><path d="M273.9,543 Q273,560 266,569 L297.3,577 L312,571 Q306,560 305.1,542.4 L292.1,548.9 Z" fill="#b9c6d1" stroke="#2a3a4a" stroke-width="1.5" stroke-linejoin="round"/><path d="M292.1,548.9 Q293,566 297.3,577 L312,571 Q306,560 305.1,542.4 Z" fill="#8fa3b4" stroke="#2a3a4a" stroke-width="1.5" stroke-linejoin="round"/><path d="M273.9,543 L287.5,536.5 L305.1,542.4 L292.1,548.9 Z" fill="#dce3e9" stroke="#2a3a4a" stroke-width="1.5" stroke-linejoin="round"/><path d="M280,542.5 L287.5,539 L297,542 L290.5,545.5 Z" fill="#55697b"/><path d="M279.7,568.5 V556 Q282.5,551.5 286.5,556 V570 Z" fill="#4f6476" stroke="#2a3a4a" stroke-width="0.9"/>
<path d="M482.5,538 C482,526 490,524 496,524.5 C505,525 509,532 508.5,545" fill="none" stroke="#2f3e4d" stroke-width="4.5"/><path d="M482.5,538 C482,526 490,524 496,524.5 C505,525 509,532 508.5,545" fill="none" stroke="#5a6a7a" stroke-width="2.2"/><path d="M440.5,545.1 H526.2 Q529.2,545.1 529.2,548 V604.3 Q529.2,607.3 526.2,607.3 H498 L495,603 H472 L469,607.3 H440.5 Q437.5,607.3 437.5,604.3 V548 Q437.5,545.1 440.5,545.1 Z" fill="#b7c3cd" stroke="#2a3a4a" stroke-width="1.5" stroke-linejoin="round"/><rect x="447.8" y="556" width="71.1" height="38.3" fill="#f7f9fb" stroke="#2a3a4a" stroke-width="1.1"/><rect x="447.8" y="548.3" width="71.1" height="7.7" fill="#2f4356"/><line x1="447.8" y1="552" x2="518.9" y2="552" stroke="#b0bcc6" stroke-width="1"/><line x1="447.8" y1="594.3" x2="518.9" y2="594.3" stroke="#2a3a4a" stroke-width="1.2"/><path d="M457.4,577.2 H510.7 L518.9,594.3 H447.8 Z" fill="#cdd6de" stroke="#2a3a4a" stroke-width="1.5" stroke-linejoin="round"/><path d="M468.5,591.8 Q471.5,586 476,584 Q480,582.5 484,583.8 Q489,582.5 492.5,584 Q497,586 499,591.8 Z" fill="#4caa55" stroke="#2f7a3a" stroke-width="0.8"/><rect x="473.8" y="537.6" width="19.1" height="24.6" rx="2" fill="#aab7c2" stroke="#2a3a4a" stroke-width="1.5" stroke-linejoin="round"/><path d="M478,542 H485 V547 Q481.5,550 478,547 Z" fill="#8fa0ae" stroke="#2a3a4a" stroke-width="0.8"/><rect x="487.5" y="555" width="2.6" height="3.6" fill="#e0603a"/><path d="M479.5,562.2 H487 L485,567 H481.5 Z" fill="#7b8a98" stroke="#2a3a4a" stroke-width="0.9"/><path d="M483.2,569 Q486.5,575 483.2,578 Q480,575 483.2,569 Z" fill="#f08a30"/>
<path d="M686.5,533.8 L699.4,539.1 V603.5 H686.5 Z" fill="#7e93a6" stroke="#2a3a4a" stroke-width="1.5" stroke-linejoin="round"/><line x1="691" y1="545.0" x2="696" y2="547.0" stroke="#3a4a5a" stroke-width="0.8"/><line x1="691" y1="588" x2="697" y2="588" stroke="#3a4a5a" stroke-width="0.8"/><line x1="691" y1="547.2" x2="696" y2="549.2" stroke="#3a4a5a" stroke-width="0.8"/><line x1="691" y1="590" x2="697" y2="590" stroke="#3a4a5a" stroke-width="0.8"/><line x1="691" y1="549.4" x2="696" y2="551.4" stroke="#3a4a5a" stroke-width="0.8"/><line x1="691" y1="592" x2="697" y2="592" stroke="#3a4a5a" stroke-width="0.8"/><line x1="691" y1="551.6" x2="696" y2="553.6" stroke="#3a4a5a" stroke-width="0.8"/><line x1="691" y1="594" x2="697" y2="594" stroke="#3a4a5a" stroke-width="0.8"/><rect x="620.9" y="533.8" width="65.6" height="69.7" rx="1.5" fill="#aebbc7" stroke="#2a3a4a" stroke-width="1.5" stroke-linejoin="round"/><rect x="629.1" y="540.2" width="48" height="43.4" rx="1.5" fill="#c5d0d9" stroke="#2a3a4a" stroke-width="1.5" stroke-linejoin="round"/><rect x="635.5" y="546.1" width="33.4" height="31.7" fill="#e4581f" stroke="#3a2a20" stroke-width="1.1"/><rect x="636.5" y="547" width="3" height="30" fill="#f39a50"/><path d="M652,553 Q655,558 659,561 Q662,566 660,571 Q656,576 651,575 Q645,574 645,568 Q645,563 649,560 Q651,557 652,553 Z" fill="#ffb64a"/><ellipse cx="652.5" cy="569" rx="5" ry="5.5" fill="#ffe08a"/><rect x="670.7" y="554.9" width="4.1" height="17" rx="1.5" fill="#b5c1cc" stroke="#2a3a4a" stroke-width="1"/><rect x="627" y="546" width="3" height="7" fill="#9aa8b4" stroke="#2a3a4a" stroke-width="0.8"/><rect x="627" y="571" width="3" height="7" fill="#9aa8b4" stroke="#2a3a4a" stroke-width="0.8"/><rect x="629.7" y="588.3" width="46.8" height="11.1" fill="#4d5d6c" stroke="#2a3a4a" stroke-width="1"/><rect x="646.7" y="591.8" width="12.8" height="5.9" fill="#5ba3dc"/><circle cx="641.4" cy="594.2" r="2" fill="#c8b8a8"/><circle cx="666.6" cy="594.2" r="2" fill="#e8eef2"/><rect x="625" y="603.5" width="9" height="3" fill="#2a3a4a"/><rect x="675" y="603.5" width="9" height="3" fill="#2a3a4a"/><line x1="615" y1="607" x2="705" y2="607" stroke="#4a5560" stroke-width="1"/>
<path d="M71.5,760.5 V733.8 A4.2,4.2 0 0 1 79.9,733.8 V760.5 A8.5,8.5 0 1 1 71.5,760.5 Z" fill="#eef4f8" stroke="#1f2d3a" stroke-width="2.6"/><path d="M73.5,743 H77.9 V762 A6.2,6.2 0 1 1 73.5,762 Z" fill="#e0603a"/><path d="M73.5,734 A2.2,2.2 0 0 1 77.9,734 V743 H73.5 Z" fill="#b9d2e0"/><circle cx="74" cy="765.5" r="1.4" fill="#f5b080"/><line x1="84.7" y1="736.8" x2="89.8" y2="736.8" stroke="#1f2d3a" stroke-width="1.4"/><line x1="84.7" y1="741.9" x2="89.8" y2="741.9" stroke="#1f2d3a" stroke-width="1.4"/><line x1="84.7" y1="746.6" x2="89.8" y2="746.6" stroke="#1f2d3a" stroke-width="1.4"/><line x1="84.7" y1="751.25" x2="89.8" y2="751.25" stroke="#1f2d3a" stroke-width="1.4"/><line x1="84.7" y1="755.9" x2="89.8" y2="755.9" stroke="#1f2d3a" stroke-width="1.4"/>
<ellipse cx="385" cy="809" rx="92" ry="3.5" fill="#b8c6d2" opacity="0.7"/><line x1="261" y1="753.3" x2="294" y2="753.3" stroke="#ec8a4c" stroke-width="2"/><circle cx="296.3" cy="753.3" r="3.6" fill="#ec8a4c"/><line x1="479" y1="753.3" x2="513" y2="753.3" stroke="#ec8a4c" stroke-width="2"/><circle cx="476.9" cy="753.3" r="3.6" fill="#ec8a4c"/><path d="M314.8,767 V735 Q314.8,727 322.8,727 H334" fill="none" stroke="#2a3a4a" stroke-width="9.2"/><path d="M314.8,767 V735 Q314.8,727 322.8,727 H334" fill="none" stroke="#b9c6d1" stroke-width="6.4"/><rect x="306.1" y="766.8" width="18.5" height="8.7" rx="2" fill="#aab7c3" stroke="#2a3a4a" stroke-width="1.4" stroke-linejoin="round"/><rect x="301.1" y="775.5" width="32.2" height="33.5" rx="1.5" fill="url(#furng)" stroke="#2a3a4a" stroke-width="1.4" stroke-linejoin="round"/><line x1="323" y1="776" x2="323" y2="808.5" stroke="#2a3a4a" stroke-width="0.9"/><path d="M309,786 q4,-2 4,4 q-1,4 -4,3" fill="#3a4a5a"/><path d="M418.7,708.7 L439.8,717.3 V806.4 H418.7 Z" fill="#97a6b4" stroke="#2a3a4a" stroke-width="1.4" stroke-linejoin="round"/><rect x="333.3" y="708.7" width="85.4" height="97.7" rx="2" fill="url(#furng)" stroke="#2a3a4a" stroke-width="1.4" stroke-linejoin="round"/><rect x="338.3" y="714.9" width="70.5" height="61.8" rx="2" fill="#c3cdd6" stroke="#2a3a4a" stroke-width="1.4" stroke-linejoin="round"/><rect x="348.2" y="722.3" width="49.5" height="48.2" fill="url(#ovg)" stroke="#3a2a20" stroke-width="1.3"/><rect x="354.2" y="727.6999999999999" width="37.5" height="37.400000000000006" fill="none" stroke="#f7a25a" stroke-width="1.2"/><rect x="360.2" y="733.0999999999999" width="25.5" height="26.6" fill="none" stroke="#fbb868" stroke-width="1.2"/><path d="M348.2,722.3 L354.2,727.7 M397.7,722.3 L391.7,727.7 M348.2,770.5 L354.2,765.1 M397.7,770.5 L391.7,765.1" stroke="#f7a25a" stroke-width="1"/><rect x="401.4" y="737.1" width="6.2" height="23.5" rx="2.5" fill="#b7c3ce" stroke="#2a3a4a" stroke-width="1.1"/><rect x="336" y="723.5" width="3.6" height="8.5" fill="#a7b4bf" stroke="#2a3a4a" stroke-width="0.8"/><rect x="336" y="762" width="3.6" height="8.5" fill="#a7b4bf" stroke="#2a3a4a" stroke-width="0.8"/><rect x="342" y="786.6" width="64.3" height="14.9" rx="1" fill="#4f5e6c" stroke="#2a3a4a" stroke-width="1"/><rect x="366.7" y="790.3" width="14.9" height="8.7" fill="#68b4e6" stroke="#2a3a4a" stroke-width="0.7"/><circle cx="391.5" cy="794" r="3.3" fill="#e8eef2" stroke="#2a3a4a" stroke-width="0.8"/><circle cx="350" cy="790.5" r="1" fill="#b57a6a"/><circle cx="355" cy="790.5" r="1" fill="#b57a6a"/><circle cx="350" cy="796.5" r="1" fill="#b57a6a"/><circle cx="355" cy="796.5" r="1" fill="#b57a6a"/><rect x="338.5" y="806.4" width="9" height="3" fill="#2a3a4a"/><rect x="406" y="806.4" width="9" height="3" fill="#2a3a4a"/><path d="M450.9,721 H464 Q467,721 467,724 V807.7 H450.9 Z" fill="#9eacb9" stroke="#2a3a4a" stroke-width="1.4" stroke-linejoin="round"/><rect x="422.4" y="721" width="28.5" height="86.7" rx="1.5" fill="url(#furng)" stroke="#2a3a4a" stroke-width="1.4" stroke-linejoin="round"/><rect x="426.1" y="727.2" width="18.6" height="29.7" rx="1" fill="#3a4b5b" stroke="#2a3a4a" stroke-width="0.9"/><rect x="428.5" y="729.5" width="13.8" height="14" fill="#6cb5e2"/><rect x="430" y="747.5" width="11" height="6" fill="#5a6b7b"/><circle cx="429.1" cy="765.6" r="2.4" fill="#c06a4a" stroke="#2a3a4a" stroke-width="0.7"/><circle cx="442.2" cy="765.6" r="2.4" fill="#c06a4a" stroke="#2a3a4a" stroke-width="0.7"/><circle cx="443" cy="772" r="1" fill="#3a4a5a"/><line x1="428" y1="788" x2="444.5" y2="788" stroke="#3a4a5a" stroke-width="0.9"/><line x1="455" y1="788" x2="463" y2="788" stroke="#3a4a5a" stroke-width="0.8"/><line x1="428" y1="791" x2="444.5" y2="791" stroke="#3a4a5a" stroke-width="0.9"/><line x1="455" y1="791" x2="463" y2="791" stroke="#3a4a5a" stroke-width="0.8"/><line x1="428" y1="794" x2="444.5" y2="794" stroke="#3a4a5a" stroke-width="0.9"/><line x1="455" y1="794" x2="463" y2="794" stroke="#3a4a5a" stroke-width="0.8"/><line x1="428" y1="797" x2="444.5" y2="797" stroke="#3a4a5a" stroke-width="0.9"/><line x1="455" y1="797" x2="463" y2="797" stroke="#3a4a5a" stroke-width="0.8"/><line x1="428" y1="800" x2="444.5" y2="800" stroke="#3a4a5a" stroke-width="0.9"/><line x1="455" y1="800" x2="463" y2="800" stroke="#3a4a5a" stroke-width="0.8"/><line x1="455" y1="731.0" x2="463" y2="731.0" stroke="#3a4a5a" stroke-width="0.8"/><line x1="455" y1="733.6" x2="463" y2="733.6" stroke="#3a4a5a" stroke-width="0.8"/><line x1="455" y1="736.2" x2="463" y2="736.2" stroke="#3a4a5a" stroke-width="0.8"/><line x1="455" y1="738.8" x2="463" y2="738.8" stroke="#3a4a5a" stroke-width="0.8"/><line x1="455" y1="741.4" x2="463" y2="741.4" stroke="#3a4a5a" stroke-width="0.8"/><rect x="424.5" y="807.7" width="6" height="2.5" fill="#2a3a4a"/><rect x="458" y="807.7" width="6" height="2.5" fill="#2a3a4a"/>
<circle cx="540.2" cy="753" r="20.3" fill="#c9d5df" stroke="#1f2d3a" stroke-width="2.4"/><circle cx="540.2" cy="753" r="16.6" fill="#f8fbfc" stroke="#1f2d3a" stroke-width="1.8"/><path d="M530.30,762.90 A14,14 0 0 1 530.30,743.10" fill="none" stroke="#5ab0d0" stroke-width="3.6"/><path d="M530.30,743.10 A14,14 0 0 1 547.20,740.88" fill="none" stroke="#a6d6e6" stroke-width="3.6"/><path d="M536.58,739.48 A14,14 0 0 1 550.10,743.10" fill="none" stroke="#e8b070" stroke-width="3.6"/><path d="M550.10,743.10 A14,14 0 0 1 550.10,762.90" fill="none" stroke="#e05a5a" stroke-width="3.6"/><line x1="540.2" y1="753" x2="549" y2="745" stroke="#1f2d3a" stroke-width="2"/><circle cx="540.2" cy="753" r="2.6" fill="#1f2d3a"/><circle cx="540.2" cy="753" r="1.1" fill="#fff"/><rect x="535.1" y="761.4" width="10.2" height="3.4" fill="#aab6c0" stroke="#3a4a5a" stroke-width="0.8"/>
<rect x="24.8" y="878.3" width="349" height="23.4" rx="11.7" fill="url(#greenp)"/><rect x="396.5" y="878.3" width="349" height="23.4" rx="11.7" fill="url(#orangep)"/><line x1="384" y1="882" x2="384" y2="1002" stroke="#9aa0a6" stroke-width="1.3" stroke-dasharray="2.2,2.8"/><circle cx="39.3" cy="928.1" r="10.3" fill="#3d9e4a"/><path d="M33.8,928.4 L37.8,932.1 L45,924.5" fill="none" stroke="#d4f5cc" stroke-width="2.6" stroke-linecap="round" stroke-linejoin="round"/><circle cx="411.4" cy="928.1" r="10.3" fill="#d23b3b"/><path d="M407,923.7 L415.8,932.5 M415.8,923.7 L407,932.5" fill="none" stroke="#fbe6e6" stroke-width="2.6" stroke-linecap="round"/><circle cx="39.3" cy="976.8" r="10.3" fill="#3d9e4a"/><path d="M33.8,977.0999999999999 L37.8,980.8 L45,973.1999999999999" fill="none" stroke="#d4f5cc" stroke-width="2.6" stroke-linecap="round" stroke-linejoin="round"/><circle cx="411.4" cy="976.8" r="10.3" fill="#d23b3b"/><path d="M407,972.4 L415.8,981.1999999999999 M415.8,972.4 L407,981.1999999999999" fill="none" stroke="#fbe6e6" stroke-width="2.6" stroke-linecap="round"/><path d="M90.90,928.10 L90.67,930.62 L94.44,932.16 L92.17,937.63 L88.42,936.06 L86.80,938.00 L84.86,939.62 L86.43,943.37 L80.96,945.64 L79.42,941.87 L76.90,942.10 L74.38,941.87 L72.84,945.64 L67.37,943.37 L68.94,939.62 L67.00,938.00 L65.38,936.06 L61.63,937.63 L59.36,932.16 L63.13,930.62 L62.90,928.10 L63.13,925.58 L59.36,924.04 L61.63,918.57 L65.38,920.14 L67.00,918.20 L68.94,916.58 L67.37,912.83 L72.84,910.56 L74.38,914.33 L76.90,914.10 L79.42,914.33 L80.96,910.56 L86.43,912.83 L84.86,916.58 L86.80,918.20 L88.42,920.14 L92.17,918.57 L94.44,924.04 L90.67,925.58Z" fill="url(#gear2g)" stroke="#25384a" stroke-width="1.6" stroke-linejoin="round"/><circle cx="76.9" cy="928.1" r="8.8" fill="#a4b2bf" stroke="#25384a" stroke-width="1.3"/><circle cx="76.9" cy="928.1" r="5.3" fill="#f2f5f8" stroke="#25384a" stroke-width="1.3"/><rect x="59.8" y="959" width="34.2" height="34.5" fill="#dce7f0" stroke="#25384a" stroke-width="1.6"/><line x1="59.8" y1="959" x2="94" y2="993.5" stroke="#3a5570" stroke-width="1"/><line x1="94" y1="959" x2="59.8" y2="993.5" stroke="#3a5570" stroke-width="1"/><line x1="76.9" y1="959" x2="59.8" y2="976.25" stroke="#3a5570" stroke-width="1"/><line x1="76.9" y1="959" x2="94" y2="976.25" stroke="#3a5570" stroke-width="1"/><line x1="59.8" y1="976.25" x2="76.9" y2="993.5" stroke="#3a5570" stroke-width="1"/><line x1="94" y1="976.25" x2="76.9" y2="993.5" stroke="#3a5570" stroke-width="1"/><line x1="76.9" y1="959" x2="76.9" y2="993.5" stroke="#3a5570" stroke-width="1"/><line x1="59.8" y1="976.25" x2="94" y2="976.25" stroke="#3a5570" stroke-width="1"/><line x1="59.8" y1="959" x2="76.9" y2="993.5" stroke="#3a5570" stroke-width="1"/><line x1="94" y1="959" x2="76.9" y2="993.5" stroke="#3a5570" stroke-width="1"/><line x1="59.8" y1="993.5" x2="76.9" y2="959" stroke="#3a5570" stroke-width="1"/><line x1="94" y1="993.5" x2="76.9" y2="959" stroke="#3a5570" stroke-width="1"/><circle cx="76.9" cy="976.25" r="5" fill="none" stroke="#3a5570" stroke-width="1"/><circle cx="59.8" cy="959" r="2.5" fill="#eef3f7" stroke="#25384a" stroke-width="1.2"/><circle cx="59.8" cy="976.25" r="2.5" fill="#eef3f7" stroke="#25384a" stroke-width="1.2"/><circle cx="59.8" cy="993.5" r="2.5" fill="#eef3f7" stroke="#25384a" stroke-width="1.2"/><circle cx="76.9" cy="959" r="2.5" fill="#eef3f7" stroke="#25384a" stroke-width="1.2"/><circle cx="76.9" cy="976.25" r="2.5" fill="#eef3f7" stroke="#25384a" stroke-width="1.2"/><circle cx="76.9" cy="993.5" r="2.5" fill="#eef3f7" stroke="#25384a" stroke-width="1.2"/><circle cx="94" cy="959" r="2.5" fill="#eef3f7" stroke="#25384a" stroke-width="1.2"/><circle cx="94" cy="976.25" r="2.5" fill="#eef3f7" stroke="#25384a" stroke-width="1.2"/><circle cx="94" cy="993.5" r="2.5" fill="#eef3f7" stroke="#25384a" stroke-width="1.2"/><path d="M430.2,940.5 L455,916.5 L458.5,920 L433.7,944 Z" fill="#a9b6c2" stroke="#25384a" stroke-width="1.4" stroke-linejoin="round"/><path d="M452.5,914 L456,910.5 L466.5,919 Q468,925 466,928.5 L461,921 Z" fill="#b9c4ce" stroke="#25384a" stroke-width="1.4" stroke-linejoin="round"/><path d="M446.5,927.5 L456.5,927 L462,932 L452,931.5 Z" fill="#b9c4ce" stroke="#25384a" stroke-width="1.4" stroke-linejoin="round"/><path d="M441,926 L448.5,918.5 L453.5,923.5 L446,931 Z" fill="#93a2b0" stroke="#25384a" stroke-width="1.4" stroke-linejoin="round"/><path d="M444,918 L447,915 L449,917 L446,920 Z" fill="#93a2b0" stroke="#25384a" stroke-width="1.4" stroke-linejoin="round"/><path d="M449,980 L461.5,990.5 Q463.5,992 462,993.5 Q460.5,994.5 459,993 L446.5,982.5 Z" fill="#9aa9b6" stroke="#25384a" stroke-width="1.4" stroke-linejoin="round"/><circle cx="439" cy="967.8" r="9.8" fill="#b4c2ce" stroke="#25384a" stroke-width="1.4" stroke-linejoin="round"/><text x="439" y="972" font-size="11" font-weight="bold" fill="#25384a" text-anchor="middle" textLength="6" lengthAdjust="spacingAndGlyphs">$</text><line x1="433.5" y1="987.5" x2="461" y2="964" stroke="#25384a" stroke-width="5.8" stroke-linecap="round"/><circle cx="461.5" cy="963.5" r="5.6" fill="#b4c2ce" stroke="#25384a" stroke-width="1.4"/><circle cx="433" cy="988" r="5.6" fill="#b4c2ce" stroke="#25384a" stroke-width="1.4"/><line x1="433.5" y1="987.5" x2="461" y2="964" stroke="#b4c2ce" stroke-width="3.2" stroke-linecap="round"/><path d="M463.19,964.55 L460.72,961.67 L465.13,957.90 L467.60,960.78Z" fill="#ffffff"/><path d="M466.69,961.56 L463.19,964.55 L460.72,961.67 L464.22,958.68" fill="none" stroke="#25384a" stroke-width="1.3" stroke-linejoin="round"/><path d="M431.31,986.95 L433.78,989.83 L429.37,993.60 L426.90,990.72Z" fill="#ffffff"/><path d="M427.81,989.94 L431.31,986.95 L433.78,989.83 L430.28,992.82" fill="none" stroke="#25384a" stroke-width="1.3" stroke-linejoin="round"/>
<path d="M140.4,1054 V1050 Q140.4,1042.3 148,1042.3 H619 Q626.5,1042.3 626.5,1050 V1054" fill="none" stroke="#2f4a66" stroke-width="3"/><line x1="384" y1="1034.8" x2="384" y2="1054" stroke="#2f4a66" stroke-width="3"/><path d="M135.20000000000002,1053.2 H145.6 L140.4,1061.5 Z" fill="#2f4a66"/><path d="M134.9,1085.2 H145.9 L140.4,1091.5 Z" fill="#2f4a66"/><path d="M378.8,1053.2 H389.2 L384,1061.5 Z" fill="#2f4a66"/><path d="M378.5,1085.2 H389.5 L384,1091.5 Z" fill="#2f4a66"/><path d="M621.3,1053.2 H631.7 L626.5,1061.5 Z" fill="#2f4a66"/><path d="M621.0,1085.2 H632.0 L626.5,1091.5 Z" fill="#2f4a66"/>
<linearGradient id="thg" x1="0" x2="1" y1="0" y2="0"><stop offset="0" stop-color="#6699c0"/><stop offset="1" stop-color="#77a8ca"/></linearGradient>
<rect x="32.5" y="1170" width="197.0" height="22.299999999999955" fill="#3f6281"/>
<rect x="229.5" y="1170" width="505.5" height="22.299999999999955" fill="url(#thg)"/>
<rect x="32.5" y="1192.3" width="197.0" height="21.700000000000045" fill="#dfe9f1"/>
<rect x="229.5" y="1192.3" width="505.5" height="21.700000000000045" fill="#ffffff"/>
<rect x="32.5" y="1214" width="197.0" height="22" fill="#dfe9f1"/>
<rect x="229.5" y="1214" width="505.5" height="22" fill="#eeeeee"/>
<rect x="32.5" y="1236" width="197.0" height="21.799999999999955" fill="#dfe9f1"/>
<rect x="229.5" y="1236" width="505.5" height="21.799999999999955" fill="#ffffff"/>
<rect x="32.5" y="1257.8" width="197.0" height="21.90000000000009" fill="#dfe9f1"/>
<rect x="229.5" y="1257.8" width="505.5" height="21.90000000000009" fill="#eeeeee"/>
<rect x="32.5" y="1279.7" width="197.0" height="21.899999999999864" fill="#dfe9f1"/>
<rect x="229.5" y="1279.7" width="505.5" height="21.899999999999864" fill="#ffffff"/>
<line x1="32.5" y1="1214" x2="735" y2="1214" stroke="#b9c3cb" stroke-width="1.2"/>
<line x1="32.5" y1="1236" x2="735" y2="1236" stroke="#b9c3cb" stroke-width="1.2"/>
<line x1="32.5" y1="1257.8" x2="735" y2="1257.8" stroke="#b9c3cb" stroke-width="1.2"/>
<line x1="32.5" y1="1279.7" x2="735" y2="1279.7" stroke="#b9c3cb" stroke-width="1.2"/>
<line x1="32.5" y1="1192.3" x2="735" y2="1192.3" stroke="#5a7085" stroke-width="1"/>
<line x1="229.5" y1="1192.3" x2="229.5" y2="1301.6" stroke="#b9c3cb" stroke-width="1.2"/>
<rect x="32.5" y="1170" width="702.5" height="131.5999999999999" fill="none" stroke="#4a5560" stroke-width="1.6"/>
<g transform="translate(631.9,1322) scale(1.1565217391304348,1.2000000000000002)"><path d="M4.5,0 H103.5 L99,20.5 H0 Z" fill="#d52a2c"/><path d="M0.8,20.5 H99 L99.6,18" fill="none" stroke="#9c1b1f" stroke-width="1"/><path d="M2,18.3 H97.6 L101.6,1.5" fill="none" stroke="#f6dede" stroke-width="1.6"/><text x="10" y="14.4" font-size="14.8" font-weight="bold" font-style="italic" fill="#fbf5f5" stroke="#fbf5f5" stroke-width="0.6" textLength="80.5" lengthAdjust="spacing">KINTEK</text></g>
<text x="145.99" y="42.6" font-size="37.02" font-weight="bold" fill="#ffffff" stroke="#ffffff" stroke-width="0.35" textLength="477.03" lengthAdjust="spacingAndGlyphs">SINTERING IN 3D PRINTING:</text>
<text x="160.2" y="72.3" font-size="30.601" font-weight="bold" fill="#ffffff" stroke="#ffffff" stroke-width="0.35" textLength="448.2" lengthAdjust="spacingAndGlyphs">The Bridge to Industrial Production</text>
<text x="142.8" y="110.6" font-size="18.478" font-weight="normal" fill="#161616" stroke="#161616" stroke-width="0.3" textLength="482.6" lengthAdjust="spacingAndGlyphs">Transforming fine powder into dense, solid objects via thermal process.</text>
<text x="122.6" y="147.3" font-size="22.391" font-weight="bold" fill="#161616" stroke="#161616" stroke-width="0.35" textLength="524.2" lengthAdjust="spacingAndGlyphs">THE FUNDAMENTAL PRINCIPLE: FUSING WITHOUT MELTING</text>
<text x="64.89" y="173.6" font-size="16.719" font-weight="bold" fill="#161616" stroke="#161616" stroke-width="0.35" textLength="115.82" lengthAdjust="spacingAndGlyphs">Powder Particles</text>
<text x="266.48" y="173.8" font-size="16.719" font-weight="bold" fill="#161616" stroke="#161616" stroke-width="0.35" textLength="52.84" lengthAdjust="spacingAndGlyphs">Heating</text>
<text x="408.8" y="173.6" font-size="16.719" font-weight="bold" fill="#161616" stroke="#161616" stroke-width="0.35" textLength="112.4" lengthAdjust="spacingAndGlyphs">Atomic Diffusion</text>
<text x="579.2" y="174.0" font-size="16.719" font-weight="bold" fill="#161616" stroke="#161616" stroke-width="0.35" textLength="131.2" lengthAdjust="spacingAndGlyphs">Dense, Solid Object</text>
<text x="259.29" y="278.8" font-size="15.374" font-weight="normal" fill="#161616" stroke="#161616" stroke-width="0.3" textLength="67.01" lengthAdjust="spacingAndGlyphs">Heat below</text>
<text x="253.68" y="294.2" font-size="15.374" font-weight="normal" fill="#161616" stroke="#161616" stroke-width="0.3" textLength="78.61" lengthAdjust="spacingAndGlyphs">melting point</text>
<text x="579.78" y="294.8" font-size="15.374" font-weight="normal" fill="#161616" stroke="#161616" stroke-width="0.3" textLength="131.02" lengthAdjust="spacingAndGlyphs">Strong Bonds Formed</text>
<text x="176.5" y="319.6" font-size="16.704" font-weight="normal" fill="#161616" stroke="#161616" stroke-width="0.3" textLength="415.4" lengthAdjust="spacingAndGlyphs">Over time, eliminates pores, resulting in a dense, solid component.</text>
<text x="281.49" y="353.75" font-size="20.899" font-weight="bold" fill="#161616" stroke="#161616" stroke-width="0.35" textLength="204.21" lengthAdjust="spacingAndGlyphs">MATERIALS UNLOCKED</text>
<text x="300.24" y="388.2" font-size="15.67" font-weight="normal" fill="#161616" stroke="#161616" stroke-width="0.3" textLength="166.61" lengthAdjust="spacingAndGlyphs">Enables production of high-</text>
<text x="270.59" y="404.0" font-size="15.67" font-weight="normal" fill="#161616" stroke="#161616" stroke-width="0.3" textLength="227.61" lengthAdjust="spacingAndGlyphs">performance components impossible</text>
<text x="316.1" y="419.8" font-size="15.67" font-weight="normal" fill="#161616" stroke="#161616" stroke-width="0.3" textLength="137.61" lengthAdjust="spacingAndGlyphs">with standard printers.</text>
<text x="84.49" y="419.9" font-size="15.823" font-weight="bold" fill="#161616" stroke="#161616" stroke-width="0.35" textLength="112.41" lengthAdjust="spacingAndGlyphs">METAL POWDERS</text>
<text x="61.69" y="435.4" font-size="15.67" font-weight="normal" fill="#161616" stroke="#161616" stroke-width="0.3" textLength="157.01" lengthAdjust="spacingAndGlyphs">Steel, Aluminum, Titanium</text>
<text x="565.6" y="419.8" font-size="15.823" font-weight="bold" fill="#161616" stroke="#161616" stroke-width="0.35" textLength="126.2" lengthAdjust="spacingAndGlyphs">CERAMIC POWDERS</text>
<text x="515.9" y="435.2" font-size="15.67" font-weight="normal" fill="#161616" stroke="#161616" stroke-width="0.3" textLength="225.4" lengthAdjust="spacingAndGlyphs">High-Strength, Temperature-Resistant</text>
<text x="259.79" y="468.6" font-size="21.346" font-weight="bold" fill="#161616" stroke="#161616" stroke-width="0.35" textLength="247.61" lengthAdjust="spacingAndGlyphs">HOW SINTERING IS APPLIED</text>
<text x="113.5" y="493.75" font-size="16.42" font-weight="bold" fill="#161616" stroke="#161616" stroke-width="0.35" textLength="165.8" lengthAdjust="spacingAndGlyphs">SINTERING DURING PRINT</text>
<text x="143.79" y="509.6" font-size="15.374" font-weight="normal" fill="#161616" stroke="#161616" stroke-width="0.3" textLength="103.22" lengthAdjust="spacingAndGlyphs">(e.g., SLS, DMLS)</text>
<text x="491.9" y="493.75" font-size="16.42" font-weight="bold" fill="#161616" stroke="#161616" stroke-width="0.35" textLength="157.4" lengthAdjust="spacingAndGlyphs">SINTERING AFTER PRINT</text>
<text x="509.19" y="509.6" font-size="15.374" font-weight="normal" fill="#161616" stroke="#161616" stroke-width="0.3" textLength="123.62" lengthAdjust="spacingAndGlyphs">(e.g., Binder Jetting)</text>
<text x="51.89" y="625.4" font-size="15.226" font-weight="normal" fill="#161616" stroke="#161616" stroke-width="0.3" textLength="117.81" lengthAdjust="spacingAndGlyphs">Laser heats &amp; fuses</text>
<text x="48.39" y="640.4" font-size="15.226" font-weight="normal" fill="#161616" stroke="#161616" stroke-width="0.3" textLength="126.2" lengthAdjust="spacingAndGlyphs">powder layer by layer</text>
<text x="256.58" y="625.1" font-size="15.226" font-weight="normal" fill="#161616" stroke="#161616" stroke-width="0.3" textLength="65.23" lengthAdjust="spacingAndGlyphs">Part builds</text>
<text x="248.8" y="640.2" font-size="15.226" font-weight="normal" fill="#161616" stroke="#161616" stroke-width="0.3" textLength="79.6" lengthAdjust="spacingAndGlyphs">incrementally</text>
<text x="417.19" y="625.2" font-size="15.226" font-weight="normal" fill="#161616" stroke="#161616" stroke-width="0.3" textLength="132.62" lengthAdjust="spacingAndGlyphs">Binder Jetting creates</text>
<text x="446.7" y="640.2" font-size="15.226" font-weight="normal" fill="#161616" stroke="#161616" stroke-width="0.3" textLength="72.2" lengthAdjust="spacingAndGlyphs">“Green” part</text>
<text x="596.09" y="625.2" font-size="15.226" font-weight="normal" fill="#161616" stroke="#161616" stroke-width="0.3" textLength="125.41" lengthAdjust="spacingAndGlyphs">Furnace burns binder</text>
<text x="590.9" y="640.2" font-size="15.226" font-weight="normal" fill="#161616" stroke="#161616" stroke-width="0.3" textLength="137.2" lengthAdjust="spacingAndGlyphs">&amp; sinters part for hours</text>
<text x="219.0" y="675.8" font-size="21.496" font-weight="bold" fill="#161616" stroke="#161616" stroke-width="0.35" textLength="330.2" lengthAdjust="spacingAndGlyphs">THE CRITICAL ROLE OF THE FURNACE</text>
<text x="318.6" y="698.2" font-size="15.226" font-weight="bold" fill="#161616" stroke="#161616" stroke-width="0.35" textLength="134.4" lengthAdjust="spacingAndGlyphs">SINTERING FURNACE</text>
<text x="99.49" y="742.8" font-size="14.928" font-weight="bold" fill="#161616" stroke="#161616" stroke-width="0.35" textLength="154.21" lengthAdjust="spacingAndGlyphs">PRECISE TEMPERATURE</text>
<text x="100.5" y="758.6" font-size="14.928" font-weight="bold" fill="#161616" stroke="#161616" stroke-width="0.35" textLength="60.61" lengthAdjust="spacingAndGlyphs">CONTROL</text>
<text x="100.5" y="774.3" font-size="14.783" font-weight="normal" fill="#161616" stroke="#161616" stroke-width="0.3" textLength="154.2" lengthAdjust="spacingAndGlyphs">Avoids melting or warping</text>
<text x="570.1" y="743.0" font-size="15.226" font-weight="bold" fill="#161616" stroke="#161616" stroke-width="0.35" textLength="130.4" lengthAdjust="spacingAndGlyphs">VACUUM / MODIFIED</text>
<text x="570.1" y="758.7" font-size="15.226" font-weight="bold" fill="#161616" stroke="#161616" stroke-width="0.35" textLength="88.8" lengthAdjust="spacingAndGlyphs">ATMOSPHERE</text>
<text x="569.09" y="774.4" font-size="15.078" font-weight="normal" fill="#161616" stroke="#161616" stroke-width="0.3" textLength="110.21" lengthAdjust="spacingAndGlyphs">Prevents oxidation</text>
<text x="213.79" y="834.8" font-size="16.113" font-weight="normal" fill="#161616" stroke="#161616" stroke-width="0.3" textLength="339.61" lengthAdjust="spacingAndGlyphs">Essential for achieving final part strength and integrity.</text>
<text x="226.99" y="869.5" font-size="21.346" font-weight="bold" fill="#161616" stroke="#161616" stroke-width="0.35" textLength="314.21" lengthAdjust="spacingAndGlyphs">UNDERSTANDING THE TRADE-OFFS</text>
<text x="162.69" y="895.5" font-size="18.212" font-weight="bold" fill="#161616" stroke="#161616" stroke-width="0.35" textLength="70.43" lengthAdjust="spacingAndGlyphs">BENEFITS</text>
<text x="523.7" y="895.3" font-size="18.212" font-weight="bold" fill="#161616" stroke="#161616" stroke-width="0.35" textLength="97.2" lengthAdjust="spacingAndGlyphs">CHALLENGES</text>
<text x="104.9" y="925.6" font-size="15.077" font-weight="bold" fill="#161616" stroke="#161616" stroke-width="0.35" textLength="219.4" lengthAdjust="spacingAndGlyphs">SUPERIOR MATERIAL PROPERTIES</text>
<text x="104.9" y="941.6" font-size="14.93" font-weight="normal" fill="#161616" stroke="#161616" stroke-width="0.3" textLength="240.4" lengthAdjust="spacingAndGlyphs">Comparable to traditional manufacturing</text>
<text x="104.9" y="973.9" font-size="15.077" font-weight="bold" fill="#161616" stroke="#161616" stroke-width="0.35" textLength="141.8" lengthAdjust="spacingAndGlyphs">GEOMETRIC FREEDOM</text>
<text x="104.9" y="990.1" font-size="14.93" font-weight="normal" fill="#161616" stroke="#161616" stroke-width="0.3" textLength="262.4" lengthAdjust="spacingAndGlyphs">Complex internal channels &amp; organic shapes</text>
<text x="474.9" y="925.6" font-size="15.077" font-weight="bold" fill="#161616" stroke="#161616" stroke-width="0.35" textLength="153.0" lengthAdjust="spacingAndGlyphs">SHRINKAGE &amp; CONTROL</text>
<text x="473.9" y="941.6" font-size="14.93" font-weight="normal" fill="#161616" stroke="#161616" stroke-width="0.3" textLength="272.81" lengthAdjust="spacingAndGlyphs">Predictable shrinkage, requires precise design</text>
<text x="474.9" y="973.9" font-size="15.077" font-weight="bold" fill="#161616" stroke="#161616" stroke-width="0.35" textLength="134.8" lengthAdjust="spacingAndGlyphs">COST &amp; COMPLEXITY</text>
<text x="473.9" y="990.1" font-size="14.93" font-weight="normal" fill="#161616" stroke="#161616" stroke-width="0.3" textLength="251.61" lengthAdjust="spacingAndGlyphs">More expensive systems, skilled operation</text>
<text x="260.9" y="1029.5" font-size="21.346" font-weight="bold" fill="#161616" stroke="#161616" stroke-width="0.35" textLength="245.21" lengthAdjust="spacingAndGlyphs">MAKING THE RIGHT CHOICE</text>
<text x="21.4" y="1078.9" font-size="15.674" font-weight="bold" fill="#161616" stroke="#161616" stroke-width="0.35" textLength="238.2" lengthAdjust="spacingAndGlyphs">STRONG, FUNCTIONAL METAL PARTS</text>
<text x="300.4" y="1078.9" font-size="15.674" font-weight="bold" fill="#161616" stroke="#161616" stroke-width="0.35" textLength="167.2" lengthAdjust="spacingAndGlyphs">COMPLEX PLASTIC PARTS</text>
<text x="503.8" y="1078.9" font-size="15.674" font-weight="bold" fill="#161616" stroke="#161616" stroke-width="0.35" textLength="244.8" lengthAdjust="spacingAndGlyphs">EXTREME HEAT / WEAR COMPONENTS</text>
<text x="39.39" y="1106.3" font-size="15.522" font-weight="normal" fill="#161616" stroke="#161616" stroke-width="0.3" textLength="201.81" lengthAdjust="spacingAndGlyphs">DMLS or Binder Jetting + Furnace</text>
<text x="291.79" y="1106.3" font-size="15.522" font-weight="normal" fill="#161616" stroke="#161616" stroke-width="0.3" textLength="184.02" lengthAdjust="spacingAndGlyphs">Selective Laser Sintering (SLS)</text>
<text x="508.7" y="1106.3" font-size="15.522" font-weight="normal" fill="#161616" stroke="#161616" stroke-width="0.3" textLength="236.6" lengthAdjust="spacingAndGlyphs">Ceramic Powders + High-Temp Furnace</text>
<text x="226.89" y="1129.3" font-size="15.522" font-weight="normal" fill="#161616" stroke="#161616" stroke-width="0.3" textLength="313.61" lengthAdjust="spacingAndGlyphs">Leverage 3D printing for true industrial production.</text>
<text x="307.2" y="1162.6" font-size="22.093" font-weight="bold" fill="#161616" stroke="#161616" stroke-width="0.35" textLength="153.4" lengthAdjust="spacingAndGlyphs">SUMMARY TABLE</text>
<text x="110.0" y="1186.5" font-size="16.122" font-weight="bold" fill="#f4f7fa" stroke="#f4f7fa" stroke-width="0.35" textLength="42.62" lengthAdjust="spacingAndGlyphs">Aspect</text>
<text x="460.87" y="1186.4" font-size="16.122" font-weight="bold" fill="#f4f7fa" stroke="#f4f7fa" stroke-width="0.35" textLength="42.83" lengthAdjust="spacingAndGlyphs">Details</text>
<text x="38.38" y="1208.4" font-size="16.271" font-weight="bold" fill="#161616" stroke="#161616" stroke-width="0.35" textLength="51.02" lengthAdjust="spacingAndGlyphs">Process</text>
<text x="38.39" y="1230.3" font-size="16.271" font-weight="bold" fill="#161616" stroke="#161616" stroke-width="0.35" textLength="85.42" lengthAdjust="spacingAndGlyphs">Key Materials</text>
<text x="39.4" y="1252.0" font-size="16.271" font-weight="bold" fill="#161616" stroke="#161616" stroke-width="0.35" textLength="131.41" lengthAdjust="spacingAndGlyphs">Common Techniques</text>
<text x="38.36" y="1273.6" font-size="16.271" font-weight="bold" fill="#161616" stroke="#161616" stroke-width="0.35" textLength="53.46" lengthAdjust="spacingAndGlyphs">Benefits</text>
<text x="39.4" y="1295.3" font-size="16.271" font-weight="bold" fill="#161616" stroke="#161616" stroke-width="0.35" textLength="69.0" lengthAdjust="spacingAndGlyphs">Challenges</text>
<text x="236.3" y="1208.4" font-size="16.113" font-weight="normal" fill="#161616" stroke="#161616" stroke-width="0.3" textLength="334.8" lengthAdjust="spacingAndGlyphs">Thermal treatment fusing powder below melting point.</text>
<text x="235.29" y="1230.3" font-size="16.113" font-weight="normal" fill="#161616" stroke="#161616" stroke-width="0.3" textLength="307.81" lengthAdjust="spacingAndGlyphs">Metal powders (steel, titanium), ceramic powders.</text>
<text x="235.29" y="1252.0" font-size="16.113" font-weight="normal" fill="#161616" stroke="#161616" stroke-width="0.3" textLength="201.82" lengthAdjust="spacingAndGlyphs">SLS, DMLS, Metal Binder Jetting.</text>
<text x="235.29" y="1273.6" font-size="16.113" font-weight="normal" fill="#161616" stroke="#161616" stroke-width="0.3" textLength="314.81" lengthAdjust="spacingAndGlyphs">High strength, geometric freedom, functional parts.</text>
<text x="235.29" y="1295.3" font-size="16.113" font-weight="normal" fill="#161616" stroke="#161616" stroke-width="0.3" textLength="305.81" lengthAdjust="spacingAndGlyphs">Shrinkage, high cost, precise temperature control.</text>
<text x="13.7" y="1327.2" font-size="12.713" font-weight="normal" fill="#f2f5f8" stroke="#f2f5f8" stroke-width="0.3" textLength="599.8" lengthAdjust="spacingAndGlyphs">Ready to elevate your 3D printing with reliable sintering solutions? At KINTEK, we leverage exceptional R&amp;D and in-house</text>
<text x="14.7" y="1340.9" font-size="12.713" font-weight="normal" fill="#f2f5f8" stroke="#f2f5f8" stroke-width="0.3" textLength="600.2" lengthAdjust="spacingAndGlyphs">manufacturing to provide advanced high-temperature furnaces like Muffle, Tube, Rotary, Vacuum &amp; Atmosphere Furnaces,</text>
<text x="14.7" y="1354.5" font-size="12.713" font-weight="normal" fill="#f2f5f8" stroke="#f2f5f8" stroke-width="0.3" textLength="601.6" lengthAdjust="spacingAndGlyphs">and CVD/PECVD Systems. Our strong deep customization capability ensures precise solutions for your unique experimental</text>
<text x="13.7" y="1368.0" font-size="12.713" font-weight="normal" fill="#f2f5f8" stroke="#f2f5f8" stroke-width="0.3" textLength="582.41" lengthAdjust="spacingAndGlyphs">needs. Contact us today to discuss how our expertise can enhance your lab&#x27;s efficiency and part quality! Our website:</text>
<text x="633.99" y="1367.6" font-size="17.167" font-weight="bold" fill="#ffffff" stroke="#ffffff" stroke-width="0.35" textLength="116.22" lengthAdjust="spacingAndGlyphs">kintekfurnace.com</text>
</svg>
</body></html>
